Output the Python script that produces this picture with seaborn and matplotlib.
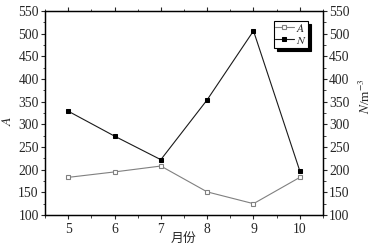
import numpy as np
import pandas as pd
import matplotlib
matplotlib.use("Agg")
import matplotlib.pyplot as plt
import seaborn as sns
from matplotlib.ticker import MultipleLocator

# data
months = [5, 6, 7, 8, 9, 10]
A_vals = [183, 195, 208, 151, 125, 183]
N_vals = [329, 274, 222, 354, 506, 197]
yticks = list(range(100, 551, 50))

sns.set_style("ticks")
plt.rcParams['font.family'] = ['Liberation Serif', 'Noto Sans CJK SC']
plt.rcParams['mathtext.fontset'] = 'stix'

df = pd.DataFrame({"month": months, "A": A_vals, "N": N_vals})

fig = plt.figure(figsize=(3.9, 2.48), dpi=100)
ax = fig.add_axes([0.1154, 0.133, 0.7128, 0.823])
ax2 = ax.twinx()

sns.lineplot(data=df, x="month", y="A", ax=ax, color="#808080", lw=0.8,
             marker="s", markersize=3.5, markerfacecolor="white",
             markeredgecolor="#808080", markeredgewidth=0.8, label="$A$", legend=False)
sns.lineplot(data=df, x="month", y="N", ax=ax2, color="#1a1a1a", lw=0.8,
             marker="s", markersize=3.5, markerfacecolor="black",
             markeredgecolor="black", label="$N$", legend=False)

for a in (ax, ax2):
    a.set_ylim(100, 550)
    a.set_yticks(yticks)
    a.yaxis.set_minor_locator(MultipleLocator(25))
    a.tick_params(axis='y', labelsize=9.8, length=3, width=0.8, direction='out', pad=1.5)
    a.tick_params(axis='y', which='minor', length=1.8, width=0.6, direction='out')
ax.set_xlim(4.5, 10.5)
ax.set_xticks(months)
ax.xaxis.set_minor_locator(MultipleLocator(0.5))
ax.tick_params(axis='x', labelsize=9.8, length=3, width=0.8, direction='out', top=True, pad=3)
ax.tick_params(axis='x', which='minor', length=1.8, width=0.6, direction='out', top=True)

for a in (ax, ax2):
    for s in a.spines.values():
        s.set_linewidth(0.9)
        s.set_color('black')

ax.set_xlabel("月份", fontsize=9.3, family=['Noto Sans CJK SC'])
ax.xaxis.set_label_coords(0.5, -0.085)
ax.set_ylabel("$A$", fontsize=10)
ax.yaxis.set_label_coords(-0.11, 0.46)
ax2.set_ylabel("$N$/m$^{-3}$", fontsize=9.5)
ax2.yaxis.set_label_coords(1.125, 0.58)

h1, l1 = ax.get_legend_handles_labels()
h2, l2 = ax2.get_legend_handles_labels()
leg = ax2.legend(h1 + h2, l1 + l2, loc='upper right', bbox_to_anchor=(0.955, 0.96),
                 fontsize=8.5, frameon=True, fancybox=False, shadow={'color': 'black', 'alpha': 1},
                 handlelength=1.6, handletextpad=0.2, borderpad=0.1, labelspacing=0.0,
                 borderaxespad=0.2)
leg.get_frame().set_edgecolor('black')
leg.get_frame().set_linewidth(0.8)

fig.savefig("out.png", dpi=100)
